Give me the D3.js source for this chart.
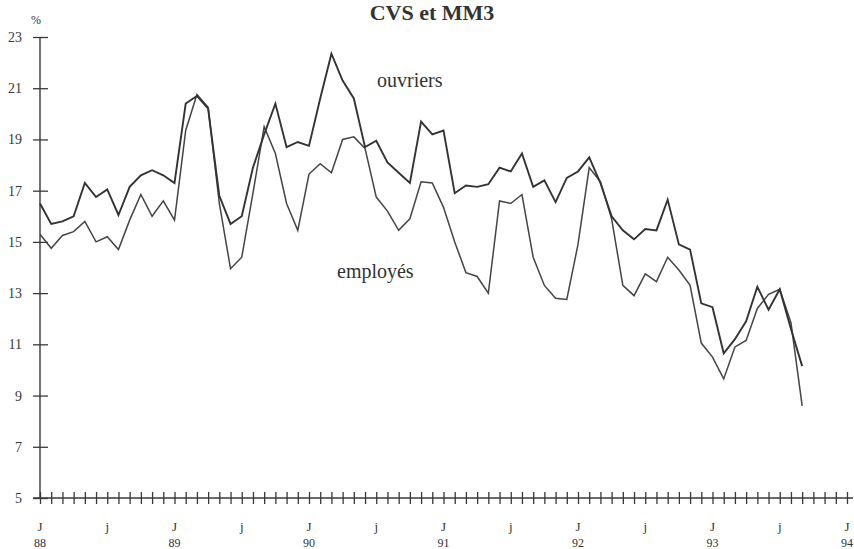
<!DOCTYPE html>
<html>
<head>
<meta charset="utf-8">
<script src="https://cdn.jsdelivr.net/npm/d3@7/dist/d3.min.js"></script>
<style>
    body { margin: 0; background: #fff; }
    svg { display: block; font-family: "Liberation Serif", "DejaVu Serif", serif; }
    .axisLabel { fill: #333; }
</style>
</head>
<body>
<div id="plotSect"></div>
<script>
/* global d3 */

// Data: monthly values from J 88 (index 0) to S 93 (index 68) //

let ouvriers = [
    16.5, 15.7, 15.8, 16.0, 17.3, 16.75, 17.05, 16.05, 17.15, 17.6, 17.8, 17.6,
    17.3, 20.4, 20.7, 20.2, 16.8, 15.7, 16.0, 17.9, 19.2, 20.4, 18.7, 18.9,
    18.75, 20.6, 22.35, 21.3, 20.6, 18.7, 18.95, 18.1, 17.7, 17.3, 19.7, 19.2,
    19.35, 16.9, 17.2, 17.15, 17.25, 17.9, 17.75, 18.45, 17.15, 17.4, 16.55, 17.5,
    17.75, 18.3, 17.3, 16.0, 15.45, 15.1, 15.5, 15.45, 16.65, 14.9, 14.7, 12.6,
    12.45, 10.65, 11.2, 11.9, 13.25, 12.35, 13.15, 11.6, 10.15
];

let employes = [
    15.3, 14.75, 15.25, 15.4, 15.8, 15.0, 15.2, 14.7, 15.85, 16.85, 16.0, 16.6,
    15.85, 19.35, 20.75, 20.25, 16.5, 13.95, 14.4, 16.9, 19.5, 18.45, 16.5, 15.45,
    17.65, 18.05, 17.7, 19.0, 19.1, 18.65, 16.75, 16.2, 15.45, 15.9, 17.35, 17.3,
    16.35, 15.0, 13.8, 13.65, 13.0, 16.6, 16.5, 16.85, 14.4, 13.3, 12.8, 12.75,
    14.9, 17.9, 17.35, 15.9, 13.3, 12.9, 13.75, 13.45, 14.4, 13.9, 13.3, 11.05,
    10.5, 9.65, 10.9, 11.15, 12.4, 12.95, 13.15, 11.85, 8.6
];

let yTicks = [5, 7, 9, 11, 13, 15, 17, 19, 21, 23];
let yearLabels = ["88", "89", "90", "91", "92", "93", "94"];
let monthCount = 72;

// Chart setup //

let SVGwidth = 854,
    SVGheight = 549;

let svg = d3.select("#plotSect").append("svg")
    .attr("width", SVGwidth)
    .attr("height", SVGheight);

let xScale = d3.scaleLinear().domain([0, monthCount]).range([40, 847]);
let yScale = d3.scaleLinear().domain([5, 23]).range([498, 37]);

let ink = "#383838";

// y axis, ticks crossing the line
let yAxis = d3.axisLeft(yScale)
    .tickValues(yTicks)
    .tickSize(7)
    .tickPadding(11);

let yG = svg.append("g")
    .attr("class", "yAxis")
    .attr("transform", "translate(" + xScale(0) + ",0)")
    .call(yAxis);
yG.select(".domain").remove();
yG.selectAll(".tick line").attr("x1", 8).attr("stroke", ink).attr("stroke-width", 1.3);
yG.selectAll(".tick text")
    .attr("fill", ink)
    .style("font-size", "14px")
    .style("font-family", "Liberation Serif");

svg.append("line")
    .attr("x1", xScale(0)).attr("x2", xScale(0))
    .attr("y1", yScale(23)).attr("y2", yScale(5))
    .attr("stroke", ink)
    .attr("stroke-width", 1.4);

// x axis, one tick per month
let months = d3.range(0, monthCount + 1);
let xAxis = d3.axisBottom(xScale)
    .tickValues(months)
    .tickSize(6)
    .tickFormat("");

let xG = svg.append("g")
    .attr("class", "xAxis")
    .attr("transform", "translate(0," + yScale(5) + ")")
    .call(xAxis);
xG.select(".domain").remove();
xG.selectAll(".tick line").attr("y1", -6).attr("stroke", ink).attr("stroke-width", 1.3);

svg.append("line")
    .attr("x1", 33).attr("x2", 853)
    .attr("y1", yScale(5)).attr("y2", yScale(5))
    .attr("stroke", ink)
    .attr("stroke-width", 1.4);

// month letters: J for January, j for July
let letterTicks = months.filter(function(m) { return m % 6 == 0; });
svg.selectAll(".monthLabel")
    .data(letterTicks)
    .enter().append("text")
    .attr("class", "axisLabel monthLabel")
    .attr("x", function(m) { return xScale(m); })
    .attr("y", 531)
    .style("text-anchor", "middle")
    .style("font-size", "13px")
    .text(function(m) { return (m % 12 == 0) ? "J" : "j"; });

svg.selectAll(".yearLabel")
    .data(yearLabels)
    .enter().append("text")
    .attr("class", "axisLabel yearLabel")
    .attr("x", function(d, i) { return xScale(i * 12); })
    .attr("y", 547)
    .style("text-anchor", "middle")
    .style("font-size", "12px")
    .text(function(d) { return d; });

svg.append("text")
    .attr("class", "axisLabel")
    .attr("x", 36)
    .attr("y", 24)
    .style("text-anchor", "middle")
    .style("font-size", "12px")
    .text("%");

svg.append("text")
    .attr("x", 432)
    .attr("y", 20)
    .attr("fill", "#333")
    .style("text-anchor", "middle")
    .style("font-size", "22px")
    .style("font-weight", "bold")
    .text("CVS et MM3");

// series lines //

let line = d3.line()
    .x(function(d, i) { return xScale(i); })
    .y(function(d) { return yScale(d); });

svg.append("path")
    .datum(employes)
    .attr("fill", "none")
    .attr("stroke", "#444")
    .attr("stroke-width", 1.5)
    .attr("stroke-linejoin", "miter")
    .attr("d", line);

svg.append("path")
    .datum(ouvriers)
    .attr("fill", "none")
    .attr("stroke", "#333")
    .attr("stroke-width", 1.9)
    .attr("stroke-linejoin", "miter")
    .attr("d", line);

svg.append("text")
    .attr("class", "axisLabel")
    .attr("x", 377)
    .attr("y", 87)
    .style("font-size", "20px")
    .text("ouvriers");

svg.append("text")
    .attr("class", "axisLabel")
    .attr("x", 337)
    .attr("y", 278)
    .style("font-size", "20px")
    .text("employés");
</script>
</body>
</html>
